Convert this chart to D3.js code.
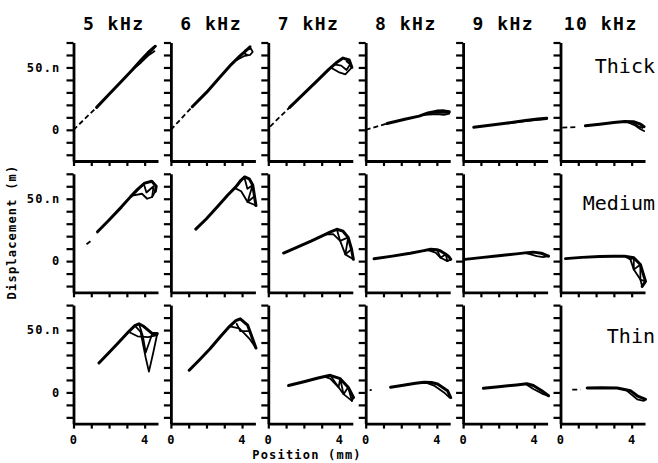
<!DOCTYPE html>
<html>
<head>
<meta charset="utf-8">
<script src="https://cdn.jsdelivr.net/npm/d3@7"></script>
<style>
body { margin: 0; background: #fff; }
text { font-family: "DejaVu Sans Mono", monospace; fill: #000; }
</style>
</head>
<body>
<div id="chart"></div>
<script>
// categories and ticks
var freqs = ["5 kHz", "6 kHz", "7 kHz", "8 kHz", "9 kHz", "10 kHz"];
var rowNames = ["Thick", "Medium", "Thin"];
var yTicks = [-20, -10, 0, 10, 20, 30, 40, 50, 60, 70];
var xTicks = [0, 1, 2, 3, 4];

// each panel: a few phase snapshots, [position mm, displacement nm]
var thick5 = [
  [[1.3,18],[2,28.5],[2.7,39],[3.3,48],[3.8,56],[4.2,62],[4.6,67]],
  [[3.3,48],[3.8,54],[4.2,59.5],[4.55,63]],
  [[3.6,52],[4.1,59],[4.45,64],[4.6,67]]
];
var thick6 = [
  [[1.2,18.5],[2,30],[2.8,43],[3.4,52.5],[3.9,59.5],[4.3,64.5],[4.45,66.5]],
  [[3.7,56],[4.1,59],[4.45,60],[4.6,62.5],[4.5,65],[4.2,64],[4.1,61.5],[4.3,60]]
];
var thick7 = [
  [[1.2,18],[2,29],[2.8,40],[3.4,48.5],[3.8,53.5],[4.2,57.5],[4.55,56],[4.7,50]],
  [[3.5,50],[3.95,46.3],[4.33,44.4],[4.7,50]],
  [[3.7,52.5],[4.1,51.5],[4.4,48],[4.6,52.5],[4.4,55]]
];
var thick8 = [
  [[1.2,5],[2.2,8.5],[3,11],[3.5,13.5],[4,15],[4.4,15.2],[4.7,14.5]],
  [[3.3,12],[4,12.5],[4.4,12],[4.7,13]],
  [[3.6,13.5],[4.1,13.8],[4.5,13.5],[4.7,14]]
];
var thick9 = [
  [[0.6,2],[1.5,3.6],[2.5,5.5],[3.5,7.5],[4.2,8.7],[4.7,9.3]],
  [[2.5,5.2],[3.5,7],[4.2,8],[4.7,8.6]]
];
var thick10 = [
  [[1.4,3.2],[2.2,4.5],[3,5.8],[3.6,6.6],[4.1,6.5],[4.5,4.5],[4.7,2.5]],
  [[3.8,6],[4.2,3.5],[4.5,0.5],[4.7,-1]],
  [[4.0,6.2],[4.35,3],[4.6,1.5]]
];

var medium5 = [
  [[1.35,23.5],[2,33],[2.7,43.5],[3.2,51.5],[3.6,57.5],[4,62.5],[4.4,64],[4.65,60],[4.6,56]],
  [[3.3,52.5],[3.85,54],[4.14,50],[4.42,51.4],[4.6,56]],
  [[3.5,55.5],[3.95,62],[4.1,55],[4.5,60],[4.42,51.4]]
];
var medium6 = [
  [[1.4,25.7],[2,34],[2.7,45],[3.2,53],[3.65,59.5],[3.95,65],[4.15,67.5],[4.4,66],[4.6,61],[4.78,44.6]],
  [[3.6,58.5],[3.95,56],[4.31,47.4],[4.78,44.6]],
  [[3.75,61],[4.12,67.6],[4.3,58],[4.59,60.8],[4.31,47.4],[4.7,52]]
];
var medium7 = [
  [[0.86,6.5],[1.6,11],[2.4,16],[3,20],[3.5,23.5],[3.85,25.5],[4.2,24],[4.49,19],[4.68,9.5],[4.78,1.5]],
  [[3.2,21.5],[3.65,21.6],[4.04,16.2],[4.33,5.4],[4.78,1.5]],
  [[3.85,25.5],[4.04,16.2],[4.49,19],[4.33,5.4],[4.68,9.5]]
];
var medium8 = [
  [[0.47,1.9],[1.5,4],[2.5,6.3],[3.2,8.2],[3.65,9.5],[4.0,9.2],[4.21,8.1],[4.5,5.5],[4.68,3.5],[4.78,1.4]],
  [[3.5,8.8],[3.93,6.8],[4.21,2.7],[4.59,0],[4.78,1.4]],
  [[4.0,9.2],[4.21,2.7],[4.5,5.5],[4.59,0]]
];
var medium9 = [
  [[0.1,1.4],[1,2.8],[2,4.3],[3,5.8],[3.6,6.8],[3.95,7.2],[4.4,6.3],[4.8,4]],
  [[3.6,6.2],[4.14,4],[4.5,3.2],[4.8,4]]
];
var medium10 = [
  [[0.28,2],[1.2,3],[2.2,3.7],[3,4],[3.6,4],[4.12,2.7],[4.49,-2.7],[4.78,-16.2],[4.59,-20.3]],
  [[3.6,4],[3.93,1.4],[4.12,-6.8],[4.49,-14.8],[4.59,-20.3]],
  [[3.93,1.4],[4.12,2.7],[4.12,-6.8],[4.49,-2.7],[4.49,-14.8],[4.78,-16.2]]
];

var thin5 = [
  [[1.43,23.6],[2,32],[2.6,41],[3.12,49],[3.45,53.5],[3.68,55],[3.96,52.8],[4.43,47.2],[4.71,47.2]],
  [[3.45,53.5],[3.77,48.6],[4.06,27.8],[4.24,16.7],[4.5,33],[4.71,47.2]],
  [[3.17,48],[3.6,45],[4.2,44.4],[4.71,46]],
  [[3.68,55],[3.9,45],[4.06,32],[4.43,47.2]]
];
var thin6 = [
  [[1.03,17.8],[1.6,26],[2.2,35],[2.8,45],[3.3,53],[3.65,57.5],[3.9,59],[4.31,54],[4.78,35.6]],
  [[3.3,53],[3.85,51.4],[4.41,43.2],[4.78,35.6]],
  [[3.7,55],[3.9,49.2],[4.45,49.2]]
];
var thin7 = [
  [[1.14,5.5],[2,8.5],[2.8,11.5],[3.48,13.7],[4.04,11],[4.49,4.1],[4.79,-4.1]],
  [[3.2,12.5],[3.48,11],[3.95,4.1],[4.23,-1.4],[4.7,-6.8],[4.79,-4.1]],
  [[3.48,13.7],[3.95,4.1],[4.04,11],[4.23,-1.4],[4.49,4.1],[4.7,-6.8]]
];
var thin8 = [
  [[1.4,4.1],[2.2,6],[2.8,7.3],[3.28,8.2],[3.7,8],[4.04,6.8],[4.6,1.4],[4.78,-4.1]],
  [[3.5,7.2],[3.84,5.5],[4.4,0],[4.7,-4],[4.78,-4.1]]
];
var thin9 = [
  [[1.14,3.3],[2,4.5],[3,6],[3.58,6.9],[3.95,5.5],[4.42,1.4],[4.8,-2.7]],
  [[3.6,6],[3.95,2.7],[4.51,-1.4],[4.8,-2.7]]
];
var thin10 = [
  [[1.5,3.6],[2.3,3.8],[3.18,3.6],[3.93,1.4],[4.31,-2.7],[4.78,-5.5]],
  [[3.6,2.8],[3.84,0],[4.31,-5.5],[4.68,-6.8],[4.78,-5.5]]
];

// broken (dashed) beginnings of the traces
var leadsThick = [[[0,0],[1.3,18]], [[0,0],[1.2,18.5]], [[0.1,2.6],[1.2,18]], [[0,0],[1.2,5]], [], [[0.1,1.8],[0.95,2.2]]];
var leadsMedium = [[[0.73,13.5],[0.98,16.2]], [], [], [], [], []];
var leadsThin = [[], [], [], [[0.22,1.9],[0.34,1.9]], [], [[0.66,2.2],[1.12,2.2]]];

var panels = [
  [thick5, thick6, thick7, thick8, thick9, thick10],
  [medium5, medium6, medium7, medium8, medium9, medium10],
  [thin5, thin6, thin7, thin8, thin9, thin10]
];
var leads = [leadsThick, leadsMedium, leadsThin];

svgWidth = 658;
svgHeight = 463;

var colX0 = 73.5, colStep = 97.4, panelW = 84.5;
var rowY0 = 42.5, rowStep = 131.3, panelH = 118.5;

var svg = d3.select("#chart")
  .append("svg")
  .attr("width", svgWidth)
  .attr("height", svgHeight);

var xScale = d3.scaleLinear().domain([0, 4.75]).range([0, panelW]);
var yScale = d3.scaleLinear().domain([-25, 70]).range([panelH, 0]);

var line = d3.line()
  .x(d => xScale(d[0]))
  .y(d => yScale(d[1]));

panels.forEach(function(row, r) {
  row.forEach(function(curves, c) {
    var g = svg.append("g")
      .attr("transform", `translate(${colX0 + c * colStep}, ${rowY0 + r * rowStep})`);

    // left axis
    var leftAxis = d3.axisLeft(yScale)
      .tickValues(yTicks)
      .tickSize(7)
      .tickSizeOuter(0)
      .tickPadding(6)
      .tickFormat(d => c === 0 ? (d === 50 ? "50.n" : d === 0 ? "0" : "") : "");
    var ya = g.append("g").call(leftAxis);

    // bottom axis
    var bottomAxis = d3.axisBottom(xScale)
      .tickValues(xTicks)
      .tickSize(5)
      .tickSizeOuter(0)
      .tickPadding(7)
      .tickFormat(d => r === 2 && (d === 0 || d === 4) ? d : "");
    var xa = g.append("g")
      .attr("transform", `translate(0, ${panelH})`)
      .call(bottomAxis);

    [ya, xa].forEach(function(a) {
      a.select(".domain").attr("stroke", "#000").attr("stroke-width", 2.8);
      a.selectAll(".tick line").attr("stroke", "#000").attr("stroke-width", 2.2);
      a.selectAll("text")
        .style("font-size", "12px")
        .style("font-weight", "bold")
        .style("letter-spacing", "1.2px")
        .attr("fill", "#000");
    });

    // dashed lead-in
    var lead = leads[r][c];
    if (lead.length) {
      g.append("path")
        .attr("d", line(lead))
        .attr("fill", "none")
        .attr("stroke", "#000")
        .attr("stroke-width", 1.8)
        .attr("stroke-dasharray", "5,3");
    }

    // phase snapshots
    g.selectAll(".snap")
      .data(curves)
      .enter()
      .append("path")
      .attr("class", "snap")
      .attr("d", d => line(d))
      .attr("fill", "none")
      .attr("stroke", "#000")
      .attr("stroke-width", (d, i) => i === 0 ? 3 : 1.8)
      .attr("stroke-linejoin", "round")
      .attr("stroke-linecap", "round");
  });
});

// column titles
svg.selectAll(".colTitle")
  .data(freqs)
  .enter()
  .append("text")
  .attr("class", "colTitle")
  .attr("x", (d, i) => colX0 + i * colStep + panelW / 2 - 2)
  .attr("y", 29.5)
  .attr("text-anchor", "middle")
  .style("font-size", "18px")
  .style("font-weight", "bold")
  .style("letter-spacing", "1.5px")
  .text(d => d);

// row labels
var rowLabelY = [73, 210, 343];
svg.selectAll(".rowLabel")
  .data(rowNames)
  .enter()
  .append("text")
  .attr("class", "rowLabel")
  .attr("x", 655)
  .attr("y", (d, i) => rowLabelY[i])
  .attr("text-anchor", "end")
  .style("font-size", "20px")
  .text(d => d);

// axis titles
svg.append("text")
  .attr("x", 307)
  .attr("y", 459)
  .attr("text-anchor", "middle")
  .style("font-size", "12px")
  .style("font-weight", "bold")
  .style("letter-spacing", "1.2px")
  .text("Position (mm)");

svg.append("text")
  .attr("transform", "rotate(-90)")
  .attr("x", -232)
  .attr("y", 16)
  .attr("text-anchor", "middle")
  .style("font-size", "12px")
  .style("font-weight", "bold")
  .style("letter-spacing", "1.2px")
  .text("Displacement (m)");
</script>
</body>
</html>
